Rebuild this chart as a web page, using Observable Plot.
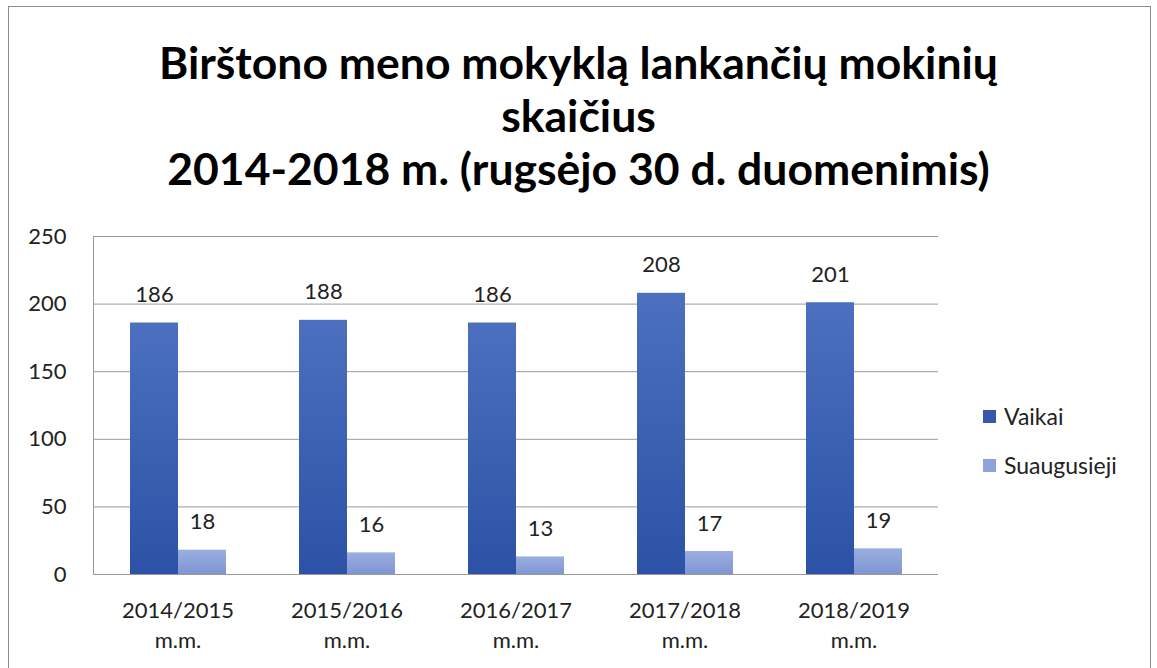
<!DOCTYPE html>
<html>
<head>
<meta charset="utf-8">
<script src="https://cdn.jsdelivr.net/npm/d3@7"></script>
<script src="https://cdn.jsdelivr.net/npm/@observablehq/plot@0.6"></script>
<style>
  html, body { margin: 0; padding: 0; background: #fff; }
  #wrap { position: relative; width: 1157px; height: 668px; overflow: hidden; font-family: Lato, "Open Sans", sans-serif; }
  #border { position: absolute; left: 8px; top: 6px; width: 1143px; height: 700px; border: 1px solid #8c8c8c; box-sizing: border-box; }
  #title { position: absolute; left: 0; top: 35px; width: 1157px; text-align: center; font-weight: bold; font-size: 44.5px; line-height: 53px; color: #000; }
  #chart { position: absolute; left: 0; top: 0; }
  .leg { position: absolute; left: 983px; font-size: 23px; color: #222; display: flex; align-items: center; height: 26px; }
  .leg span.sw { display: inline-block; width: 13px; height: 13px; margin-right: 8px; }
</style>
</head>
<body>
<div id="wrap">
  <div id="border"></div>
  <div id="title">Birštono meno mokyklą lankančių mokinių<br>skaičius<br>2014-2018 m. (rugsėjo 30 d. duomenimis)</div>
  <div id="chart"></div>
  <div id="legend"></div>
</div>
<script>
const categories = ["2014/2015", "2015/2016", "2016/2017", "2017/2018", "2018/2019"];
const seriesNames = ["Vaikai", "Suaugusieji"];
const vaikai = [186, 188, 186, 208, 201];
const suaugusieji = [18, 16, 13, 17, 19];
const yTicks = [0, 50, 100, 150, 200, 250];
const colors = ["#3558ab", "#8ea3da"];

const data = [];
categories.forEach((c, i) => {
  data.push({cat: c, series: seriesNames[0], value: vaikai[i]});
  data.push({cat: c, series: seriesNames[1], value: suaugusieji[i]});
});

const chart = Plot.plot({
  width: 1157,
  height: 668,
  marginTop: 236,
  marginBottom: 94,
  marginLeft: 91,
  marginRight: 217,
  style: {fontFamily: "Lato, 'Open Sans', sans-serif", fontSize: "22px", color: "#222", background: "transparent"},
  fx: {domain: categories, padding: 0, label: null},
  x: {domain: seriesNames, paddingInner: 0, paddingOuter: 0.733, axis: null},
  y: {domain: [0, 250], label: null},
  color: {domain: seriesNames, range: ["url(#gradV)", "url(#gradS)"]},
  marks: [
    Plot.gridY(yTicks, {stroke: "#9a9a9a", strokeOpacity: 1, strokeWidth: 1}),
    Plot.axisY(yTicks, {tickSize: 0, tickPadding: 27, fontSize: 22, fill: "#222"}),
    Plot.axisFx({anchor: "bottom", tickSize: 0, tickPadding: 22, fontSize: 22, fill: "#222", lineHeight: 1.38,
                 tickFormat: d => d + "\nm.m.", label: null}),
    Plot.barY(data, {fx: "cat", x: "series", y: "value", fill: "series"}),
    Plot.text(data, {fx: "cat", x: "series", y: "value", text: d => String(d.value),
                     dy: -28, fontSize: 22, fill: "#222"}),
    Plot.frame({anchor: "left", facetAnchor: "left", stroke: "#9a9a9a"})
  ]
});

// gradients for the bars
const defs = document.createElementNS("http://www.w3.org/2000/svg", "defs");
defs.innerHTML = `
  <linearGradient id="gradV" x1="0" y1="0" x2="0" y2="1">
    <stop offset="0" stop-color="#4c70bf"/>
    <stop offset="1" stop-color="#2b52a6"/>
  </linearGradient>
  <linearGradient id="gradS" x1="0" y1="0" x2="0" y2="1">
    <stop offset="0" stop-color="#9aaee0"/>
    <stop offset="1" stop-color="#7f96d2"/>
  </linearGradient>`;
chart.insertBefore(defs, chart.firstChild);
document.getElementById("chart").appendChild(chart);

// legend
const legend = document.getElementById("legend");
seriesNames.forEach((s, i) => {
  const d = document.createElement("div");
  d.className = "leg";
  d.style.top = (403 + i * 49) + "px";
  d.innerHTML = `<span class="sw" style="background:${colors[i]}"></span>${s}`;
  legend.appendChild(d);
});
</script>
</body>
</html>
